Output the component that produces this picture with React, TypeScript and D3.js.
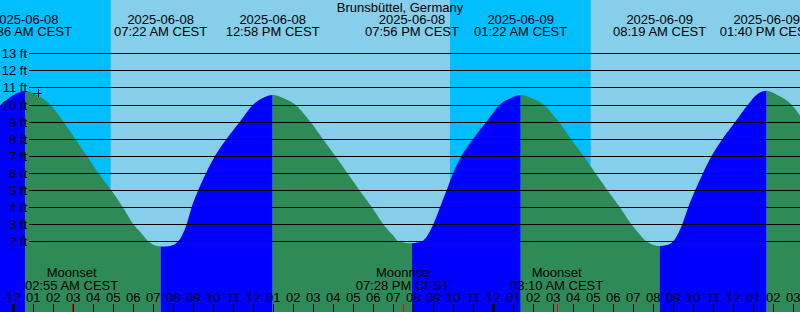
import React from "react";
import * as d3 from "d3";

const W = 800;
const H = 312;
const TITLE = "Brunsbüttel, Germany";

// hours since 2025-06-08 00:00 CEST
const extremeTimes = [0.6, 7.367, 12.967, 19.933, 25.367, 32.317, 37.667];
const extremeRising = [true, false, true, false, true, false, true]; // segment before extreme is rising
const extremeDates = ["2025-06-08", "2025-06-08", "2025-06-08", "2025-06-08", "2025-06-09", "2025-06-09", "2025-06-09"];
const extremeLabels = ["12:36 AM CEST", "07:22 AM CEST", "12:58 PM CEST", "07:56 PM CEST", "01:22 AM CEST", "08:19 AM CEST", "01:40 PM CEST"];

const tideTimes = [
  -0.67, -0.33, 0, 0.33, 0.6, 1.17, 1.84, 2.5, 3.09, 3.67, 4.25, 4.89, 5.47, 6.0, 6.34, 6.75, 7.0, 7.367,
  7.84, 8.09, 8.25, 8.67, 8.92, 9.25, 9.64, 10.09, 10.67, 11.34, 12.0, 12.5, 12.967,
  13.59, 14.09, 14.84, 15.47, 16.09, 16.7, 17.3, 17.92, 18.5, 19.0, 19.25, 19.933,
  20.25, 20.5, 21.0, 21.34, 21.67, 22.0, 22.42, 23.0, 23.67, 24.34, 24.92, 25.367,
  26.0, 26.5, 27.25, 27.88, 28.5, 29.1, 29.7, 30.32, 30.9, 31.4, 31.65, 32.317,
  32.7, 33.0, 33.45, 33.75, 34.1, 34.49, 34.92, 35.47, 36.11, 36.74, 37.2, 37.667,
  38.2, 38.9, 39.4,
];
const tideHeights = [
  9.93, 10.26, 10.55, 10.71, 10.8, 10.55, 10, 9, 8, 7, 6, 5, 4, 3, 2.56, 2, 1.8, 1.7,
  1.73, 1.84, 2, 3, 4, 5, 6, 7, 8, 9, 10, 10.39, 10.55,
  10.32, 10, 9, 8, 7, 6, 5, 4, 3, 2.33, 2, 1.88,
  1.94, 2.05, 3, 4, 5, 6, 7, 8, 9, 10, 10.39, 10.55,
  10.32, 10, 9, 8, 7, 6, 5, 4, 3, 2.3, 2, 1.72,
  1.78, 2.0, 3, 4, 5, 6, 7, 8, 9, 10, 10.6, 10.8,
  10.55, 10, 9.25,
];

const nightStarts = [-1, 21.833];
const nightEnds = [4.867, 28.867];

const moonTimes = [2.917, 19.467, 27.167];
const moonEvents = ["Moonset", "Moonrise", "Moonset"];
const moonLabels = ["02:55 AM CEST", "07:28 PM CEST", "03:10 AM CEST"];

const levels = [2, 3, 4, 5, 6, 7, 8, 9, 10, 11, 12, 13];
const hours = d3.range(0, 40);

const markTime = 1.21;
const markHeight = 10.67;

const DAY = "#87CEEB";
const NIGHT = "#00BFFF";
const FLOOD = "#0000FF";
const EBB = "#2E8B57";

export default function App() {
  const x = d3.scaleLinear().domain([0, 40]).range([13.3, 813.3]);
  const y = d3.scaleLinear().domain([0, 13]).range([275.5, 53.2]);
  const t0 = x.invert(0);
  const t1 = x.invert(W);

  const pts = tideTimes.map((t, i) => [t, tideHeights[i]] as [number, number]);
  const area = d3
    .area<[number, number]>()
    .x((d) => x(d[0]))
    .y0(H)
    .y1((d) => y(d[1]))
    .curve(d3.curveMonotoneX)(pts) as string;

  const bounds = [t0, ...extremeTimes, t1];
  const segs = bounds.slice(0, -1).map((b, i) => ({
    a: b,
    b: bounds[i + 1],
    rising: i < extremeRising.length ? extremeRising[i] : !extremeRising[extremeRising.length - 1],
  }));

  const font = "'Liberation Sans', Arial, sans-serif";
  const fmtHour = (h: number) => {
    const v = h % 12 === 0 ? 12 : h % 12;
    return v < 10 ? "0" + v : String(v);
  };

  return (
    <svg
      width={W}
      height={H}
      style={{ position: "absolute", left: 0, top: 0, display: "block" }}
      fontFamily={font}
      fontSize={13}
    >
      <defs>
        <clipPath id="tideClip">
          <path d={area} />
        </clipPath>
      </defs>
      <rect x={0} y={0} width={W} height={H} fill={DAY} />
      {nightStarts.map((s, i) => (
        <rect key={"n" + i} x={x(s)} y={0} width={x(nightEnds[i]) - x(s)} height={H} fill={NIGHT} />
      ))}
      <g clipPath="url(#tideClip)">
        {segs.map((s, i) => (
          <rect key={"s" + i} x={x(s.a)} y={0} width={x(s.b) - x(s.a)} height={H} fill={s.rising ? FLOOD : EBB} />
        ))}
      </g>
      {levels.map((l) => {
        const yy = Math.round(y(l)) + 0.5;
        return (
          <g key={"l" + l}>
            <line x1={29} x2={W} y1={yy} y2={yy} stroke="#000" strokeWidth={1} />
            <text x={27} y={yy + 4.5} textAnchor="end">
              {l} ft
            </text>
          </g>
        );
      })}
      <g stroke="#000" strokeWidth={1}>
        <line x1={x(markTime) - 4} x2={x(markTime) + 4} y1={Math.round(y(markHeight)) + 0.5} y2={Math.round(y(markHeight)) + 0.5} />
        <line x1={Math.round(x(markTime)) + 0.5} x2={Math.round(x(markTime)) + 0.5} y1={y(markHeight) - 4} y2={y(markHeight) + 4} />
      </g>
      <text x={400} y={12} textAnchor="middle">
        {TITLE}
      </text>
      {extremeTimes.map((t, i) => (
        <g key={"e" + i}>
          <text x={x(t)} y={23.5} textAnchor="middle">
            {extremeDates[i]}
          </text>
          <text x={x(t)} y={36} textAnchor="middle">
            {extremeLabels[i]}
          </text>
        </g>
      ))}
      {moonTimes.map((t, i) => (
        <g key={"m" + i}>
          <text x={x(t)} y={277} textAnchor="middle">
            {moonEvents[i]}
          </text>
          <text x={x(t)} y={290} textAnchor="middle">
            {moonLabels[i]}
          </text>
          <line x1={Math.round(x(t)) + 0.5} x2={Math.round(x(t)) + 0.5} y1={304} y2={H} stroke="#FF0000" />
        </g>
      ))}
      {hours.map((h) => {
        const xx = Math.round(x(h)) + 0.5;
        const midnight = h % 24 === 0;
        return (
          <g key={"h" + h}>
            <text x={x(h)} y={302} textAnchor="middle">
              {fmtHour(h)}
            </text>
            <line x1={xx} x2={xx} y1={304} y2={H} stroke="#000" strokeWidth={midnight ? 3 : 1} />
          </g>
        );
      })}
    </svg>
  );
}
